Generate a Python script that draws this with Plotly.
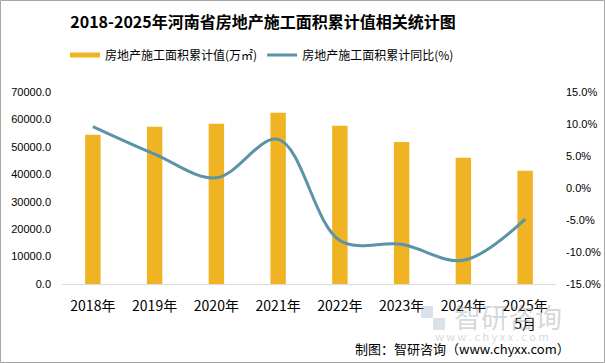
import plotly.graph_objects as go

categories = ["2018年", "2019年", "2020年", "2021年", "2022年", "2023年", "2024年", "2025年<br>5月"]
area_values = [54400, 57300, 58400, 62400, 57700, 51800, 46000, 41300]
yoy_values = [9.6, 5.3, 1.6, 7.6, -8.2, -8.8, -11.3, -4.85]
left_ticks = [0, 10000, 20000, 30000, 40000, 50000, 60000, 70000]
right_ticks = [-15, -10, -5, 0, 5, 10, 15]

FONT = "Noto Sans CJK SC"
NUMFONT = "Liberation Sans"
BAR_COLOR = "#F0B323"
LINE_COLOR = "#5B93A8"

fig = go.Figure()
fig.add_trace(go.Bar(
    x=categories, y=area_values, name="房地产施工面积累计值(万㎡)",
    marker=dict(color=BAR_COLOR, line=dict(width=0)), yaxis="y", showlegend=False,
))
# legend swatch for bar series (flat bar style)
fig.add_trace(go.Scatter(
    x=[None], y=[None], name="房地产施工面积累计值(万㎡)", mode="lines",
    line=dict(color=BAR_COLOR, width=5), yaxis="y", hoverinfo="skip",
))
fig.add_trace(go.Scatter(
    x=categories, y=yoy_values, name="房地产施工面积累计同比(%)",
    mode="lines", line=dict(color=LINE_COLOR, width=3, shape="spline", smoothing=1.0),
    yaxis="y2",
))

L, R, T, B = 62, 49, 92, 79
W, H = 605, 363
pw, ph = W - L - R, H - T - B

def px(x):
    return (x - L) / pw

def py(y):
    return (H - B - y) / ph

fig.update_layout(
    width=W, height=H, autosize=False,
    margin=dict(l=L, r=R, t=T, b=B),
    paper_bgcolor="white", plot_bgcolor="white",
    font=dict(family=FONT, size=12, color="#000"),
    bargap=0.75,
    showlegend=True,
    title=dict(text="<b>2018-2025年河南省房地产施工面积累计值相关统计图</b>",
               x=263 / W, xanchor="center", y=1 - 22 / H, yanchor="middle",
               font=dict(family=FONT, size=16, color="#000")),
    legend=dict(orientation="h", x=px(262), xanchor="center", y=py(55), yanchor="middle",
                font=dict(family=FONT, size=12, color="#000"), itemwidth=30,
                traceorder="normal", bgcolor="rgba(0,0,0,0)"),
    xaxis=dict(showgrid=False, showline=True, linecolor="#d9d9d9", linewidth=1,
               ticks="", ticklabelstandoff=9, automargin=False,
               tickfont=dict(family=FONT, size=14, color="#000")),
    yaxis=dict(range=[0, 70000], tickvals=left_ticks,
               ticktext=[f"{v:.1f}" for v in left_ticks], automargin=False,
               showgrid=False, zeroline=False, showline=False, ticklabelstandoff=10,
               tickfont=dict(family=NUMFONT, size=11, color="#000")),
    yaxis2=dict(range=[-15, 15], tickvals=right_ticks,
                ticktext=[f"{v:.1f}%" for v in right_ticks], automargin=False,
                overlaying="y", side="right", showgrid=False, zeroline=False,
                showline=False, ticklabelstandoff=9,
                tickfont=dict(family=NUMFONT, size=11, color="#000")),
)

# outer border
fig.add_shape(type="rect", xref="paper", yref="paper",
              x0=px(0.5), x1=px(W - 0.5), y0=py(H - 0.5), y1=py(0.5),
              line=dict(color="#a6a6a6", width=1), fillcolor="rgba(0,0,0,0)", layer="below")

# watermark logo
fig.add_shape(type="rect", xref="paper", yref="paper",
              x0=px(421), x1=px(433), y0=py(318), y1=py(306),
              line=dict(width=0), fillcolor="rgba(150,170,190,0.35)")
fig.add_shape(type="rect", xref="paper", yref="paper",
              x0=px(433), x1=px(445), y0=py(330), y1=py(318),
              line=dict(width=0), fillcolor="rgba(150,170,190,0.35)")
fig.add_annotation(text="智研咨询", xref="paper", yref="paper", x=px(508), y=py(316),
                   xanchor="center", yanchor="middle", showarrow=False,
                   font=dict(family=FONT, size=27, color="rgba(160,165,170,0.45)"))
fig.add_annotation(text="w w w . c h y x x . c o m", xref="paper", yref="paper", x=px(492), y=py(336),
                   xanchor="center", yanchor="middle", showarrow=False,
                   font=dict(family=FONT, size=11, color="rgba(160,165,170,0.45)"))

fig.add_annotation(text="制图：智研咨询（www.chyxx.com）", xref="paper", yref="paper",
                   x=px(572), y=py(348), xanchor="right", yanchor="middle", showarrow=False,
                   font=dict(family=FONT, size=13, color="#000"))

fig.write_html("out.html", config={"displayModeBar": False},
               post_script="document.body.style.margin='0px';document.body.style.overflow='hidden';")
